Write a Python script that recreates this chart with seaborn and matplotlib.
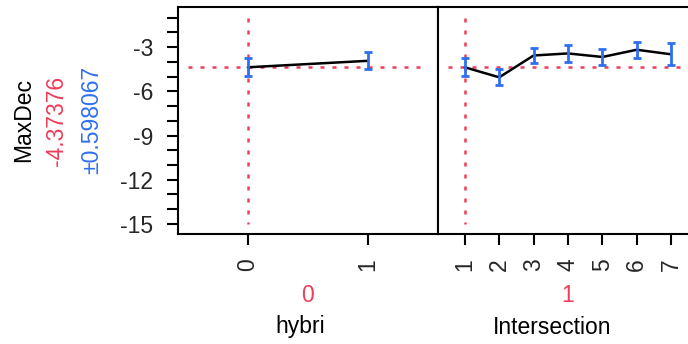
import matplotlib
matplotlib.use("Agg")
import matplotlib.pyplot as plt
from matplotlib.ticker import MultipleLocator
import numpy as np
import pandas as pd
import seaborn as sns

# Response summary
response = "MaxDec"
grand_mean = -4.37376
grand_se = 0.598067

# Factor 1: hybri
hybri_levels = [0, 1]
hybri_mean = [-4.37, -3.93]
hybri_err = [0.60, 0.58]

# Factor 2: Intersection
inter_levels = [1, 2, 3, 4, 5, 6, 7]
inter_mean = [-4.37, -5.05, -3.57, -3.43, -3.67, -3.18, -3.49]
inter_err = [0.60, 0.55, 0.53, 0.55, 0.54, 0.55, 0.75]

factor_names = ["hybri", "Intersection"]
factor_flags = ["0", "1"]
y_ticks = [-3, -6, -9, -12, -15]
y_span = (-1, -15)

RED = "#EE3D58"
BLUE = "#2F6FF0"
FS = 16.5

sns.set_style("ticks")
plt.rcParams["font.family"] = ["Liberation Sans", "DejaVu Sans"]
plt.rcParams["axes.linewidth"] = 1.5

W, H = 688, 344
fig = plt.figure(figsize=(W / 100, H / 100), dpi=100)


def px_axes(x0, y0, x1, y1):
    return fig.add_axes([x0 / W, 1 - y1 / H, (x1 - x0) / W, (y1 - y0) / H])


ax_l = px_axes(178, 7, 438, 234)
ax_r = px_axes(438, 7, 698, 234)

panels = [
    (ax_l, hybri_levels, hybri_mean, hybri_err, (-0.58, 1.58)),
    (ax_r, inter_levels, inter_mean, inter_err, (0.22, 7.78)),
]

dotted = (0, (1.6, 3.2))
for ax, levels, mean, err, xlim in panels:
    df = pd.DataFrame({"level": levels, "mean": mean})
    # reference lines: overall mean and baseline level
    ax.plot([levels[0] - 0.5, levels[-1] + 0.5], [grand_mean, grand_mean],
            color=RED, lw=1.8, ls=dotted, zorder=1)
    ax.plot([levels[0], levels[0]], list(y_span),
            color=RED, lw=1.8, ls=dotted, zorder=1)
    sns.lineplot(data=df, x="level", y="mean", color="black", lw=1.8,
                 ax=ax, zorder=2)
    ax.errorbar(levels, mean, yerr=err, fmt="none", ecolor=BLUE,
                elinewidth=2.0, capsize=3.2, capthick=2.0, zorder=3)
    ax.set_xlim(*xlim)
    ax.set_ylim(-15.68, -0.28)
    ax.set_xticks(levels)
    ax.set_xticklabels([str(v) for v in levels], rotation=90, fontsize=FS)
    ax.tick_params(axis="x", length=8, width=1.5, pad=9.5, color="black")
    ax.set_xlabel("")
    ax.set_ylabel("")
    ax.grid(False)
    for s in ax.spines.values():
        s.set_color("black")
        s.set_linewidth(1.5)

ax_l.set_yticks(y_ticks)
ax_l.set_yticklabels([str(v) for v in y_ticks], fontsize=FS)
ax_l.yaxis.set_minor_locator(MultipleLocator(1))
ax_l.tick_params(axis="y", which="both", length=8, width=1.5, pad=10,
                 color="black")
ax_r.set_yticks([])
ax_r.tick_params(axis="y", which="both", left=False, labelleft=False)

# factor flags and names under each panel
for cx, nx, flag, name in zip([308, 568], [300, 552], factor_flags, factor_names):
    fig.text(cx / W, 1 - 295 / H, flag, color=RED, fontsize=FS,
             ha="center", va="center")
    fig.text(nx / W, 1 - 327 / H, name, color="black", fontsize=FS,
             ha="center", va="center")

# response label with mean and spread
fig.text(24 / W, 1 - 120 / H, response, rotation=90, fontsize=FS,
         ha="center", va="center", color="black")
fig.text(56 / W, 1 - 121 / H, f"{grand_mean:.5f}", rotation=90, fontsize=FS,
         ha="center", va="center", color=RED)
fig.text(92 / W, 1 - 120 / H, f"\u00b1{grand_se:.6f}", rotation=90,
         fontsize=FS, ha="center", va="center", color=BLUE)

fig.savefig("out.png", dpi=100)
